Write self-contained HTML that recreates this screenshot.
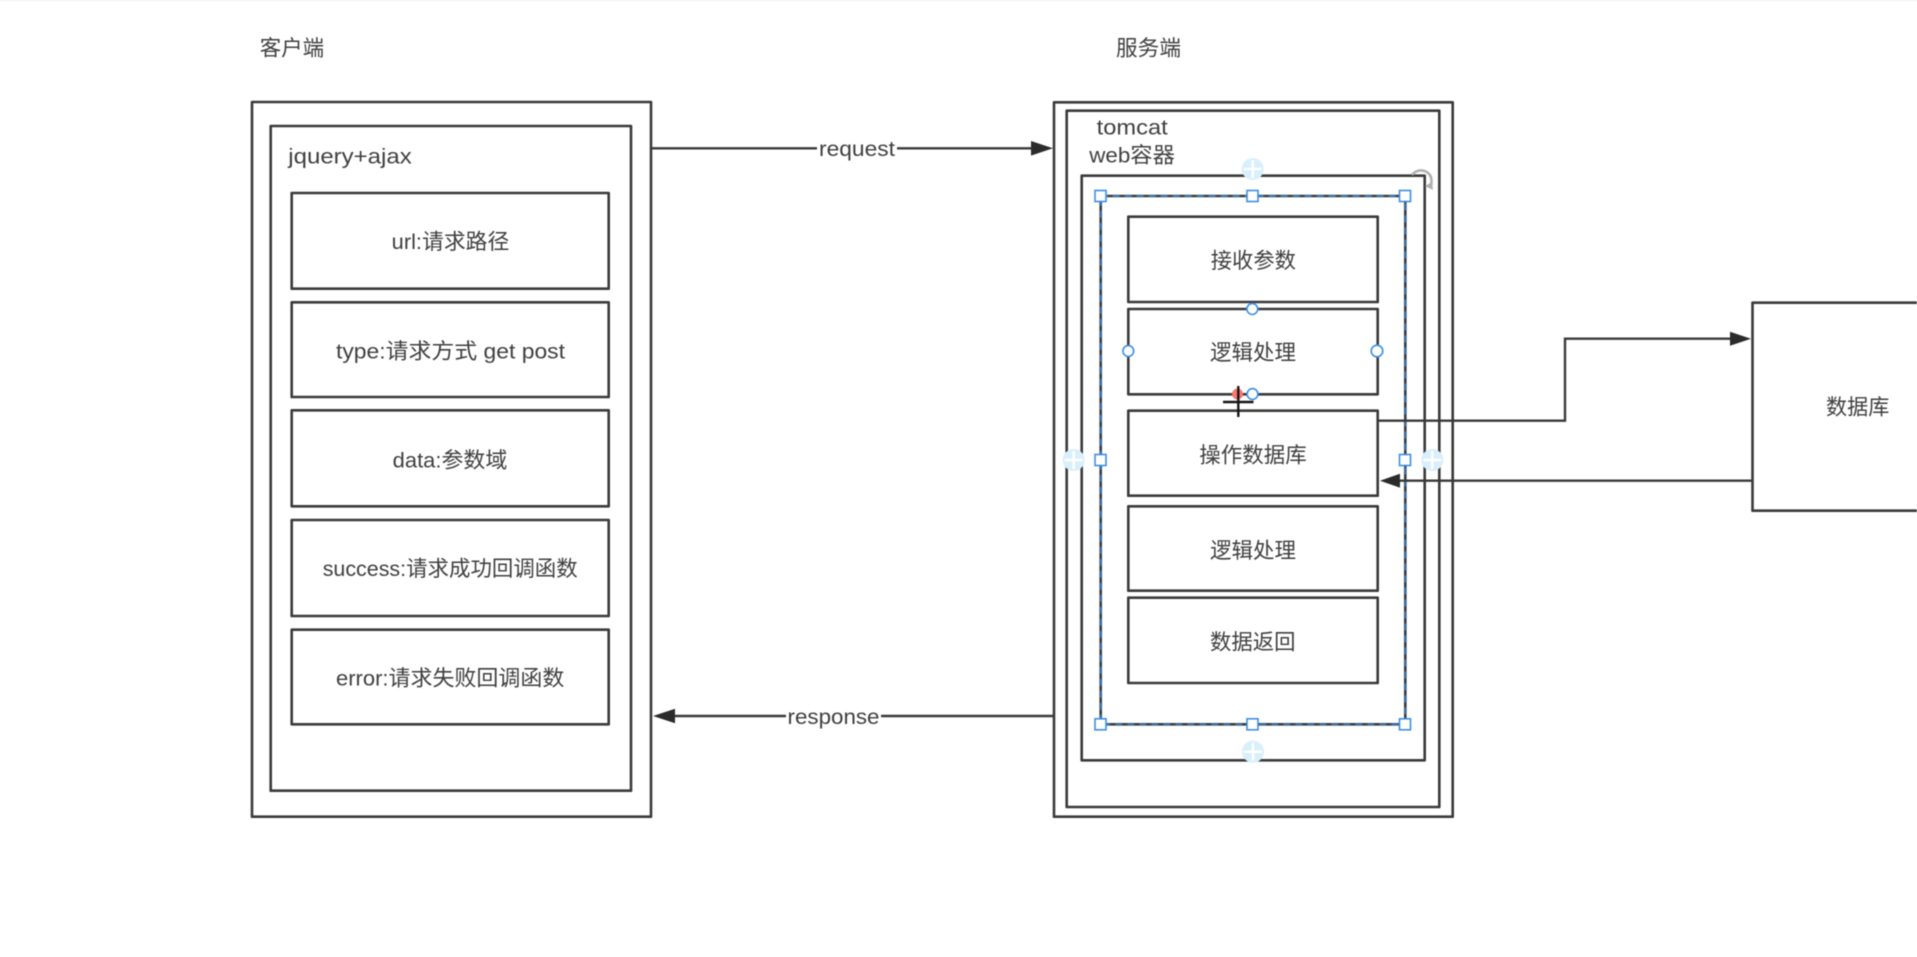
<!DOCTYPE html>
<html><head><meta charset="utf-8"><style>
html,body{margin:0;padding:0;background:#fff;width:1917px;height:957px;overflow:hidden}
svg{display:block;filter:blur(.45px)}
text{font-family:"Liberation Sans","Noto Sans CJK SC",sans-serif;font-size:21.5px;fill:#3f3f3f}
.b{fill:#fff;stroke:#3a3a3a;stroke-width:2.6;stroke-linejoin:round}
.l{fill:none;stroke:#3a3a3a;stroke-width:2.4}
.a{fill:#2b2b2b}
.h{fill:#fff;stroke:#3d8fe3;stroke-width:1.6}
.p{fill:#d8effc}
.x{stroke:#fff;stroke-width:2.5}
</style></head><body>
<svg width="1917" height="957" viewBox="0 0 1917 957" xmlns="http://www.w3.org/2000/svg">
<rect width="1917" height="957" fill="#fff"/>
<line x1="0" y1="0.5" x2="1917" y2="0.5" stroke="#eeeeee"/>

<rect class="b" x="252" y="102" width="399" height="714.7"/>
<rect class="b" x="270.7" y="126" width="360.3" height="664.7"/>
<rect class="b" x="291.7" y="193" width="317" height="95.7"/>
<rect class="b" x="291.7" y="302.3" width="317" height="94.7"/>
<rect class="b" x="291.7" y="410.3" width="317" height="96"/>
<rect class="b" x="291.7" y="520" width="317" height="96"/>
<rect class="b" x="291.7" y="629.7" width="317" height="94.6"/>

<rect class="b" x="1054" y="102.3" width="398.7" height="714.4"/>
<rect class="b" x="1066.7" y="110.7" width="372.6" height="696.3"/>
<rect class="b" x="1081.7" y="175.7" width="343" height="584.6"/>
<rect class="b" x="1100.7" y="196" width="304.6" height="528.3"/>
<rect class="b" x="1128.3" y="216.7" width="249.4" height="85.3"/>
<rect class="b" x="1128.3" y="309" width="249.4" height="85.3"/>
<rect class="b" x="1128.3" y="410.7" width="249.4" height="85"/>
<rect class="b" x="1128.3" y="506.3" width="249.4" height="84.4"/>
<rect class="b" x="1128.3" y="597.7" width="249.4" height="85.3"/>
<rect x="1100.7" y="196" width="304.6" height="528.3" fill="none" stroke="#2f86d8" stroke-width="1.4" stroke-dasharray="7 5"/>

<rect class="b" x="1752.5" y="302.7" width="200" height="208"/>

<line class="l" x1="651" y1="148.3" x2="1035" y2="148.3"/>
<polygon class="a" points="1053,148.3 1031,141 1031,155.6"/>
<rect x="817" y="136" width="80" height="25" fill="#fff"/>
<line class="l" x1="1054" y1="716" x2="670" y2="716"/>
<polygon class="a" points="653,716 675,708.7 675,723.3"/>
<rect x="786" y="704" width="95" height="25" fill="#fff"/>
<polyline class="l" points="1377.7,420.7 1565,420.7 1565,338.7 1735,338.7"/>
<polygon class="a" points="1751,338.7 1730,331.7 1730,345.7"/>
<line class="l" x1="1752.5" y1="480.7" x2="1396" y2="480.7"/>
<polygon class="a" points="1380,480.7 1400,473.7 1400,487.7"/>

<text x="259.7" y="55.5" textLength="64.5" lengthAdjust="spacingAndGlyphs">客户端</text>
<text x="1116" y="55.5" textLength="65" lengthAdjust="spacingAndGlyphs">服务端</text>
<text x="288.3" y="163.3" textLength="123.4" lengthAdjust="spacingAndGlyphs">jquery+ajax</text>
<text x="391.7" y="249" textLength="117.6" lengthAdjust="spacingAndGlyphs">url:请求路径</text>
<text x="336" y="358.3" textLength="229" lengthAdjust="spacingAndGlyphs">type:请求方式 get post</text>
<text x="392.7" y="467.7" textLength="114.6" lengthAdjust="spacingAndGlyphs">data:参数域</text>
<text x="322.7" y="576" textLength="255" lengthAdjust="spacingAndGlyphs">success:请求成功回调函数</text>
<text x="336" y="685.7" textLength="228.3" lengthAdjust="spacingAndGlyphs">error:请求失败回调函数</text>
<text x="819" y="156" textLength="76" lengthAdjust="spacingAndGlyphs">request</text>
<text x="787.5" y="724" textLength="92" lengthAdjust="spacingAndGlyphs">response</text>
<text x="1096.7" y="134.7" textLength="71" lengthAdjust="spacingAndGlyphs">tomcat</text>
<text x="1089.3" y="162.7" textLength="85.7" lengthAdjust="spacingAndGlyphs">web容器</text>
<text x="1210.7" y="268" textLength="85.3" lengthAdjust="spacingAndGlyphs">接收参数</text>
<text x="1210" y="360" textLength="86" lengthAdjust="spacingAndGlyphs">逻辑处理</text>
<text x="1199.3" y="462.5" textLength="107.4" lengthAdjust="spacingAndGlyphs">操作数据库</text>
<text x="1210" y="558" textLength="86" lengthAdjust="spacingAndGlyphs">逻辑处理</text>
<text x="1210" y="649.5" textLength="85.5" lengthAdjust="spacingAndGlyphs">数据返回</text>
<text x="1826" y="414.7" textLength="63.3" lengthAdjust="spacingAndGlyphs">数据库</text>

<g>
<circle class="p" cx="1252.7" cy="169" r="11"/><path class="x" d="M1252.7 160V178M1243.7 169H1261.7"/>
<circle class="p" cx="1073.7" cy="460" r="11"/><path class="x" d="M1073.7 451V469M1064.7 460H1082.7"/>
<circle class="p" cx="1432.3" cy="460" r="11"/><path class="x" d="M1432.3 451V469M1423.3 460H1441.3"/>
<circle class="p" cx="1253" cy="751.7" r="11"/><path class="x" d="M1253 742.7V760.7M1244 751.7H1262"/>
</g>
<path d="M1412 175A11 11 0 0 1 1431 177Q1432 182 1431 187" fill="none" stroke="#b0b0b0" stroke-width="2.6"/>
<polygon points="1433,190 1425,186 1432,182" fill="#b0b0b0"/>

<rect class="h" x="1095" y="190.5" width="11" height="11"/>
<rect class="h" x="1247" y="190.5" width="11" height="11"/>
<rect class="h" x="1399.5" y="190.5" width="11" height="11"/>
<rect class="h" x="1095" y="454.5" width="11" height="11"/>
<rect class="h" x="1399.5" y="454.5" width="11" height="11"/>
<rect class="h" x="1095" y="718.8" width="11" height="11"/>
<rect class="h" x="1247" y="718.8" width="11" height="11"/>
<rect class="h" x="1399.5" y="718.8" width="11" height="11"/>

<circle class="h" cx="1252.3" cy="309" r="5.4"/>
<circle class="h" cx="1128.3" cy="351" r="5.4"/>
<circle class="h" cx="1377" cy="351" r="5.8"/>
<circle class="h" cx="1252.5" cy="394" r="5.4"/>

<circle cx="1237.5" cy="394" r="5.5" fill="#f57a70"/>
<path d="M1238.3 386V417M1223 402H1253.5" stroke="#161616" stroke-width="2.4" fill="none"/>
</svg>
</body></html>
